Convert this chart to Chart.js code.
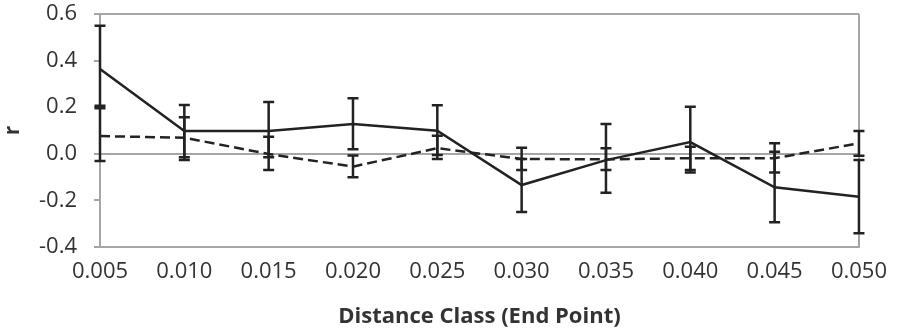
<!DOCTYPE html>
<html>
<head>
<meta charset="utf-8">
<script src="https://cdn.jsdelivr.net/npm/chart.js@4/dist/chart.umd.min.js"></script>
<style>
  html, body { margin: 0; padding: 0; background: #fff; }
  #wrap { width: 899px; height: 334px; }
</style>
</head>
<body>
<div id="wrap"><canvas id="chart" width="899" height="334"></canvas></div>
<script>
// Distance classes (end point)
const distanceLabels = ['0.005', '0.010', '0.015', '0.020', '0.025', '0.030', '0.035', '0.040', '0.045', '0.050'];

// Solid series: r and error bar limits
const rSolid     = [0.364, 0.098, 0.098, 0.128, 0.099, -0.134, -0.027, 0.050, -0.144, -0.184];
const solidUpper = [0.550, 0.209, 0.222, 0.238, 0.208, -0.022, 0.128, 0.202, 0.009, -0.027];
const solidLower = [0.195, -0.015, -0.015, 0.019, -0.005, -0.250, -0.167, -0.080, -0.294, -0.341];

// Dashed series: r and error bar limits
const rDashed     = [0.076, 0.069, -0.001, -0.055, 0.024, -0.022, -0.024, -0.019, -0.019, 0.045];
const dashedUpper = [0.206, 0.157, 0.073, -0.007, 0.078, 0.026, 0.024, 0.030, 0.045, 0.098];
const dashedLower = [-0.031, -0.027, -0.070, -0.101, -0.022, -0.070, -0.070, -0.070, -0.080, -0.008];

// Y axis ticks
const yTicks = [-0.4, -0.2, 0.0, 0.2, 0.4, 0.6];

const frameGray = '#a6a6a6';
const inkColor = '#222222';
const textColor = '#333333';

// Plugin: vertical error bars with caps, drawn through the chart scales
const errorBars = {
  id: 'errorBars',
  afterDatasetsDraw(chart) {
    const ctx = chart.ctx;
    const xs = chart.scales.x;
    const ys = chart.scales.y;
    const sets = [[solidLower, solidUpper], [dashedLower, dashedUpper]];
    ctx.save();
    ctx.strokeStyle = inkColor;
    ctx.lineWidth = 2.5;
    ctx.setLineDash([]);
    sets.forEach(([lo, hi]) => {
      for (let i = 0; i < distanceLabels.length; i++) {
        const x = xs.getPixelForValue(i);
        const yLo = ys.getPixelForValue(lo[i]);
        const yHi = ys.getPixelForValue(hi[i]);
        ctx.beginPath();
        ctx.moveTo(x, yLo); ctx.lineTo(x, yHi);
        ctx.moveTo(x - 5.5, yLo); ctx.lineTo(x + 5.5, yLo);
        ctx.moveTo(x - 5.5, yHi); ctx.lineTo(x + 5.5, yHi);
        ctx.stroke();
      }
    });
    ctx.restore();
  }
};

const ctx = document.getElementById('chart').getContext('2d');
new Chart(ctx, {
  type: 'line',
  data: {
    labels: distanceLabels,
    datasets: [
      {
        data: rSolid,
        borderColor: inkColor,
        borderWidth: 2.5,
        pointRadius: 0,
        tension: 0,
        fill: false
      },
      {
        data: rDashed,
        borderColor: inkColor,
        borderWidth: 2.5,
        borderDash: [10, 5],
        pointRadius: 0,
        tension: 0,
        fill: false
      }
    ]
  },
  options: {
    responsive: false,
    animation: false,
    layout: { padding: { top: 14, right: 29, bottom: 0, left: 0 } },
    plugins: {
      legend: { display: false },
      tooltip: { enabled: false }
    },
    scales: {
      x: {
        type: 'category',
        offset: false,
        afterFit(scale) { scale.height = 87; },
        grid: {
          drawTicks: false,
          lineWidth: 2,
          color: (c) => c.index === distanceLabels.length - 1 ? frameGray : 'rgba(0,0,0,0)'
        },
        border: { color: frameGray, width: 2 },
        ticks: {
          padding: 12,
          color: textColor,
          font: { family: 'Open Sans', size: 22 },
          maxRotation: 0,
          autoSkip: false
        },
        title: {
          display: true,
          text: 'Distance Class (End Point)',
          color: textColor,
          font: { family: 'Open Sans', size: 22, weight: 'bold' },
          padding: { top: 0, bottom: 4 }
        }
      },
      y: {
        min: yTicks[0],
        max: yTicks[yTicks.length - 1],
        afterFit(scale) {
          scale.width = 100;
          scale.paddingTop = 0;
          scale.paddingBottom = 0;
        },
        afterBuildTicks(scale) { scale.ticks = yTicks.map(v => ({ value: v })); },
        grid: {
          lineWidth: 2,
          tickLength: 6,
          tickWidth: 2,
          tickColor: frameGray,
          color: (c) => {
            const v = c.tick ? Math.round(c.tick.value * 10) / 10 : null;
            return (v === 0 || v === 0.6 || v === -0.4) ? frameGray : 'rgba(0,0,0,0)';
          }
        },
        border: { color: frameGray, width: 2 },
        ticks: {
          padding: 17,
          color: textColor,
          font: { family: 'Open Sans', size: 22 },
          callback: (v) => Number(v).toFixed(1)
        },
        title: {
          display: true,
          text: 'r',
          color: textColor,
          font: { family: 'Open Sans', size: 21, weight: 'bold' },
          padding: { top: 0, bottom: 0 }
        }
      }
    }
  },
  plugins: [errorBars]
});
</script>
</body>
</html>
